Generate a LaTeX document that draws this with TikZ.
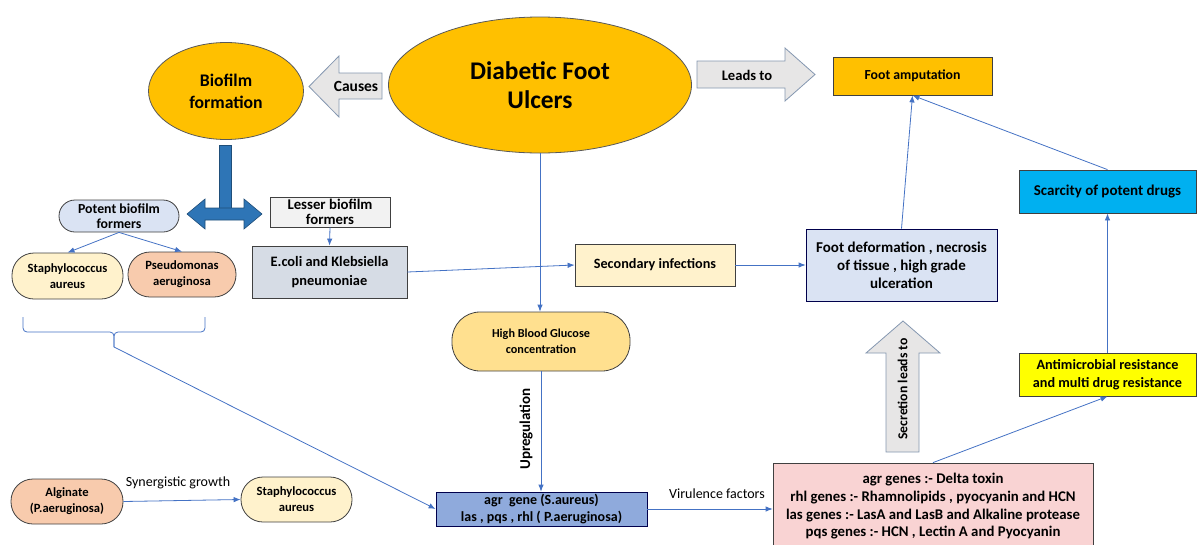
\documentclass[tikz,border=0pt]{standalone}
\usepackage{fontspec}
\setmainfont{Carlito}
\usetikzlibrary{arrows.meta,shapes.geometric}

\definecolor{ulcerorange}{HTML}{FFC000}
\definecolor{creamfill}{HTML}{FFF2CC}
\definecolor{salmonfill}{HTML}{F8CBAD}
\definecolor{glucosefill}{HTML}{FFE08F}
\definecolor{paleblue}{HTML}{DAE3F3}
\definecolor{ecoligray}{HTML}{D6DCE5}
\definecolor{lessergray}{HTML}{F2F2F2}
\definecolor{agrblue}{HTML}{8FAADC}
\definecolor{pinkfill}{HTML}{F9D3D3}
\definecolor{cyanfill}{HTML}{00B0F0}
\definecolor{yellowfill}{HTML}{FFFF00}
\definecolor{linkblue}{HTML}{4472C4}
\definecolor{arrowgray}{HTML}{E7E6E6}
\definecolor{arrowedge}{HTML}{8497B0}
\definecolor{tblue}{HTML}{2E75B6}
\definecolor{tedge}{HTML}{1F4E79}

\newcommand{\fs}[2]{\fontsize{#1}{#2}\selectfont}

\tikzset{
  box/.style       = {shape=rectangle, draw=black!75, line width=0.8pt,
                      align=center, inner sep=1pt,
                      font=\bfseries\fs{14.2}{18}},
  pill/.style      = {box, font=\bfseries\fs{12.6}{16}},
  oval/.style      = {shape=ellipse, draw=black!65, line width=0.8pt,
                      fill=ulcerorange, align=center, inner sep=0pt},
  link/.style      = {draw=linkblue, line width=0.8pt,
                      -{Latex[length=7pt,width=5.5pt]}},
  blockarrow/.style = {draw=arrowedge, fill=arrowgray, line width=0.8pt},
  label/.style     = {inner sep=0pt, font=\fs{14}{16}}
}

\begin{document}
\begin{tikzpicture}[x=1pt, y=-1pt]
    \useasboundingbox (0,0) rectangle (1197,544);

    % top row
    \node [oval, minimum width=303pt, minimum height=136pt,
           font=\bfseries\fs{25.4}{29}] (dfu) at (540,85) {Diabetic Foot\\Ulcers};
    \node [oval, minimum width=155pt, minimum height=97pt,
           font=\bfseries\fs{17.7}{22}] (biofilm) at (226,91) {Biofilm\\formation};
    \node [box, fill=ulcerorange, minimum width=159pt, minimum height=38pt,
           font=\bfseries\fs{13.8}{16}] (amp) at (912.5,76) {Foot amputation};

    \draw [blockarrow] (309,86.5) -- (339,56) -- (339,73) -- (382,73)
        -- (382,99) -- (339,99) -- (339,117) -- cycle;
    \node [label, font=\bfseries\fs{15.5}{17}] (causes) at (356,86) {Causes};
    \draw [blockarrow] (697,61) -- (785,61) -- (785,48) -- (815,74.5)
        -- (785,101) -- (785,88) -- (697,88) -- cycle;
    \node [label, font=\bfseries\fs{14.6}{17}] (leads) at (747,75) {Leads to};

    % biofilm formers
    \fill [tblue, draw=tedge, line width=0.6pt] (219,145) rectangle (231,208);
    \draw [fill=tblue, draw=tedge, line width=0.6pt] (187,214) -- (205,199)
        -- (205,208) -- (244,208) -- (244,199) -- (262,214) -- (244,229)
        -- (244,220) -- (205,220) -- (205,229) -- cycle;

    \node [box, fill=paleblue, rounded corners=16pt, minimum width=120pt,
           minimum height=32pt, font=\bfseries\fs{13.8}{15}] (potent) at (119,216)
           {Potent biofilm\\formers};
    \node [box, fill=lessergray, minimum width=120pt, minimum height=30pt,
           font=\bfseries\fs{14.8}{15}] (lesser) at (330,212) {Lesser biofilm\\formers};
    \node [pill, fill=creamfill, rounded corners=22pt, minimum width=111pt,
           minimum height=46pt] (staphtop) at (67.5,276) {Staphylococcus\\aureus};
    \node [pill, fill=salmonfill, rounded corners=22pt, minimum width=108pt,
           minimum height=45pt] (pseudo) at (182,274.5) {Pseudomonas\\aeruginosa};
    \node [box, fill=ecoligray, minimum width=155pt, minimum height=52pt,
           font=\bfseries\fs{14.4}{19}] (ecoli) at (329.5,272) {E.coli and Klebsiella\\pneumoniae};

    % middle
    \node [box, fill=creamfill, minimum width=160pt, minimum height=42pt] (second)
          at (655,265) {Secondary infections};
    \node [box, fill=paleblue, minimum width=191pt, minimum height=72pt,
           draw=black!70!blue, font=\bfseries\fs{15}{18}] (deform) at (901.5,265)
           {Foot deformation , necrosis\\of tissue , high grade\\ulceration};
    \node [box, fill=cyanfill, minimum width=177pt, minimum height=43pt,
           font=\bfseries\fs{15}{18}] (scarce) at (1107.5,191.5) {Scarcity of potent drugs};
    \node [box, fill=yellowfill, minimum width=177pt, minimum height=43pt] (amr)
          at (1107.5,374.5) {Antimicrobial resistance\\and multi drug resistance};
    \node [pill, fill=glucosefill, rounded corners=28pt, minimum width=178pt,
           minimum height=59pt, font=\bfseries\fs{12.2}{16}] (glucose) at (541,341.5)
           {High Blood Glucose\\concentration};

    \draw [blockarrow] (886,452) -- (886,353) -- (866,353) -- (903,321)
        -- (940,353) -- (919,353) -- (919,452) -- cycle;
    \node [label, rotate=90, font=\bfseries\fs{13.7}{16}] (secretes) at (902.5,389)
          {Secretion leads to};

    % brace under the two potent formers
    \draw [draw=linkblue, line width=0.8pt, rounded corners=4pt]
        (23,317) -- (23,332) -- (114,332) -- (114,347);
    \draw [draw=linkblue, line width=0.8pt, rounded corners=4pt]
        (205,317) -- (205,332) -- (114,332) -- (114,347);
    \coordinate (bracetip) at (114,347);

    % bottom row
    \node [pill, fill=salmonfill, rounded corners=22pt, minimum width=112pt,
           minimum height=45pt] (alginate) at (67,501.5) {Alginate\\(P.aeruginosa)};
    \node [pill, fill=creamfill, rounded corners=22pt, minimum width=111pt,
           minimum height=45pt] (staphlow) at (296.5,499.5) {Staphylococcus\\aureus};
    \node [box, fill=agrblue, minimum width=211pt, minimum height=34pt,
           draw=black!70!blue, font=\bfseries\fs{14}{17}] (agr) at (541.5,509)
           {agr\ \ gene (S.aureus)\\las , pqs , rhl ( P.aeruginosa)};
    \node [box, fill=pinkfill, minimum width=320pt, minimum height=87pt,
           font=\bfseries\fs{14.8}{17.7}] (virulence) at (933,506.5)
           {agr genes :- Delta toxin\\rhl genes :- Rhamnolipids , pyocyanin and HCN\\
            las genes :- LasA and LasB and Alkaline protease\\pqs genes :- HCN , Lectin A and Pyocyanin};

    % connectors
    \draw [link] (dfu.south) -- (dfu.south |- glucose.north);
    \draw [link] (glucose.south) -- (glucose.south |- agr.north);
    \node [label, rotate=90, font=\bfseries\fs{15}{17}] (upreg) at (526,429) {Upregulation};
    \draw [link] (potent.south) -- (staphtop.north);
    \draw [link] (potent.south) -- (pseudo.north);
    \draw [link] (lesser.south) -- (ecoli.north);
    \draw [link] (ecoli.east) -- (second.west);
    \draw [link] (second.east) -- (deform.west);
    \draw [link] (deform.north) -- (amp.south);
    \draw [link] (scarce.north) -- (amp.south);
    \draw [link] (amr.north) -- (scarce.south);
    \draw [link] (virulence.north) -- (amr.south);
    \draw [link] (bracetip) -- (agr.west);
    \draw [link] (agr.east) -- (agr.east -| virulence.west);
    \node [label] (virlabel) at (717,494) {Virulence factors};
    \draw [link] (alginate.east) -- (staphlow.west);
    \node [label] (synergy) at (178,483) {Synergistic growth};

\end{tikzpicture}
\end{document}
